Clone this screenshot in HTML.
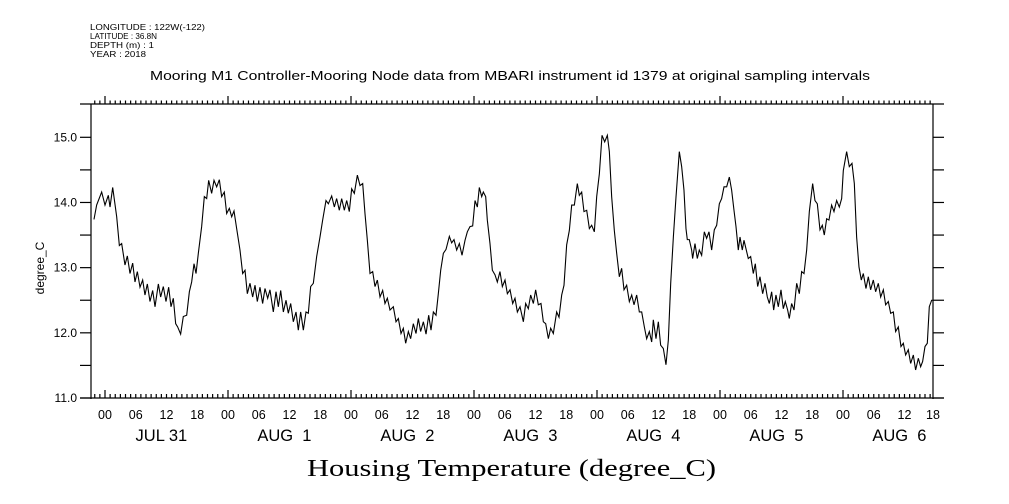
<!DOCTYPE html>
<html><head><meta charset="utf-8"><style>
body{margin:0;background:#fff;width:1009px;height:504px;overflow:hidden}
svg{display:block}
text{font-family:"Liberation Sans",sans-serif;fill:#000}
</style></head><body>
<svg id="chart" width="1009" height="504" viewBox="0 0 1009 504" xmlns="http://www.w3.org/2000/svg">
<g font-size="8.5">
<text x="90" y="30" textLength="115" lengthAdjust="spacingAndGlyphs">LONGITUDE : 122W(-122)</text>
<text x="90" y="39" textLength="67" lengthAdjust="spacingAndGlyphs">LATITUDE : 36.8N</text>
<text x="90" y="48" textLength="64" lengthAdjust="spacingAndGlyphs">DEPTH (m) : 1</text>
<text x="90" y="57" textLength="56" lengthAdjust="spacingAndGlyphs">YEAR : 2018</text>
</g>
<text x="150" y="80" textLength="720" lengthAdjust="spacingAndGlyphs" font-size="13">Mooring M1 Controller-Mooring Node data from MBARI instrument id 1379 at original sampling intervals</text>
<g id="axes"></g>
<g id="series"></g>
<text x="0" y="0" transform="translate(44,268) rotate(-90)" text-anchor="middle" font-size="12">degree_C</text>
<text x="307" y="476" textLength="409" lengthAdjust="spacingAndGlyphs" font-size="24" style="font-family:'Liberation Serif',serif">Housing Temperature (degree_C)</text>
</svg>
<script>
const hours = [-2.15,-1.63,-0.65,0.0,0.65,0.98,1.50,2.28,2.80,3.25,3.90,4.36,4.88,5.40,5.85,6.31,6.83,7.35,7.80,8.26,8.78,9.30,9.76,10.41,10.86,11.38,11.90,12.42,12.88,13.33,13.79,14.18,14.76,15.28,15.94,16.46,16.91,17.37,17.76,18.21,18.86,19.38,19.84,20.23,20.81,21.27,21.79,22.31,22.76,23.28,23.74,24.26,24.72,25.17,25.69,26.34,26.86,27.32,27.77,28.29,28.81,29.27,29.72,30.24,30.76,31.22,31.74,32.19,32.84,33.37,33.82,34.28,34.80,35.32,35.77,36.23,36.75,37.27,37.72,38.18,38.70,39.22,39.67,40.13,40.65,41.30,41.95,42.47,43.12,43.58,44.23,44.75,45.20,45.72,46.18,46.70,47.16,47.67,48.13,48.65,49.24,49.76,50.28,50.73,51.19,51.71,52.23,52.68,53.14,53.66,54.18,54.63,55.09,
55.61,56.26,56.78,57.24,57.76,58.21,58.67,59.19,59.64,60.16,60.68,61.14,61.59,62.12,62.64,63.16,63.61,64.07,64.59,65.04,65.50,66.02,66.54,67.19,67.64,68.10,68.62,69.14,69.66,70.25,70.70,71.22,71.74,72.20,72.65,73.04,73.50,73.82,74.28,74.60,75.12,75.58,76.10,76.55,77.07,77.53,78.05,78.51,79.03,79.55,80.00,80.46,80.98,81.63,82.08,82.60,83.06,83.58,84.03,84.55,85.07,85.53,85.99,86.51,86.96,87.48,88.13,88.59,89.11,89.56,90.08,90.60,91.06,91.58,92.16,92.55,93.01,93.46,93.99,94.51,94.96,95.48,95.94,96.46,96.98,97.50,98.02,98.41,98.86,99.38,99.84,100.36,100.81,101.27,101.79,102.31,102.77,103.22,103.74,104.26,104.72,105.24,105.69,106.21,106.67,106.99,107.51,107.97,108.42,108.94,109.46,109.92,110.38,110.90,111.42,
112.06,112.52,112.97,113.36,113.62,114.01,114.47,114.66,115.12,115.57,115.96,116.42,116.94,117.39,117.85,118.37,118.89,119.35,119.87,120.32,120.78,121.30,121.82,122.27,122.73,123.12,123.57,123.90,124.35,124.68,125.07,125.52,125.98,126.50,126.89,127.35,127.80,128.32,128.78,129.23,129.62,130.08,130.47,130.92,131.38,131.90,132.35,132.74,133.20,133.52,133.98,134.44,134.96,135.48,135.93,136.39,136.91,137.43,138.08,138.53,138.99,139.51,139.96,140.35,140.81,141.26,141.78,142.24,142.76,143.28,143.74,144.06,144.71,145.23,145.75,146.21,146.66,147.12,147.57,147.96,148.48,148.94,149.39,149.91,150.37,150.89,151.35,151.87,152.32,152.84,153.30,153.82,154.27,154.79,155.31,155.77,156.22,156.74,157.20,157.72,158.17,158.70,159.15,159.54,160.00,160.45,160.84,161.30,161.62];
const temps = [13.74,13.96,14.16,13.96,14.11,13.93,14.23,13.78,13.34,13.37,13.04,13.18,12.91,13.07,12.78,12.94,12.70,12.81,12.58,12.75,12.48,12.65,12.40,12.75,12.55,12.71,12.48,12.70,12.40,12.53,12.14,12.09,11.98,12.25,12.27,12.63,12.78,13.06,12.91,13.22,13.63,14.09,14.06,14.34,14.14,14.34,14.24,14.35,14.09,14.16,13.83,13.91,13.78,13.87,13.60,13.27,12.91,12.96,12.60,12.76,12.55,12.73,12.48,12.70,12.45,12.68,12.53,12.66,12.32,12.63,12.40,12.65,12.32,12.50,12.30,12.45,12.17,12.32,12.04,12.32,12.04,12.32,12.30,12.71,12.76,13.17,13.47,13.73,14.03,13.98,14.10,13.93,14.06,13.88,14.06,13.88,14.03,13.86,14.21,14.14,14.42,14.26,14.29,13.83,13.42,12.91,12.94,12.71,12.81,12.55,12.65,12.45,12.53,
12.35,12.40,12.17,12.22,11.99,12.07,11.84,12.02,11.91,12.14,11.99,12.22,12.02,12.17,11.98,12.27,12.04,12.32,12.27,12.60,12.96,13.22,13.28,13.48,13.38,13.43,13.27,13.37,13.19,13.42,13.55,13.63,13.64,14.03,13.93,14.23,14.09,14.16,14.09,13.73,13.37,12.96,12.89,12.78,12.94,12.71,12.81,12.60,12.66,12.45,12.53,12.32,12.40,12.17,12.45,12.37,12.58,12.45,12.66,12.43,12.45,12.17,12.14,11.91,12.07,11.99,12.32,12.24,12.58,12.73,13.35,13.57,13.96,13.96,14.29,14.11,14.16,13.86,13.88,13.60,13.65,13.55,14.09,14.44,15.03,14.93,15.03,14.78,14.09,13.57,13.22,12.86,12.99,12.66,12.73,12.48,12.58,12.43,12.58,12.32,12.32,12.09,11.91,12.02,11.86,12.20,11.91,12.17,11.81,11.76,11.51,11.89,12.76,13.47,14.09,
14.78,14.55,14.19,13.60,13.43,13.43,13.27,13.14,13.37,13.14,13.27,13.19,13.55,13.45,13.55,13.27,13.58,13.65,13.98,14.06,14.24,14.24,14.39,14.19,13.88,13.63,13.27,13.47,13.27,13.42,13.29,13.14,13.17,12.91,13.06,12.71,12.86,12.60,12.76,12.55,12.45,12.63,12.35,12.58,12.40,12.66,12.37,12.48,12.35,12.22,12.45,12.35,12.76,12.60,12.94,12.91,13.27,13.86,14.29,14.03,13.98,13.58,13.65,13.50,13.75,13.73,13.96,13.86,14.03,13.93,14.06,14.49,14.78,14.55,14.60,14.29,13.47,13.01,12.81,12.91,12.68,12.86,12.66,12.81,12.63,12.76,12.55,12.66,12.43,12.48,12.30,12.32,12.02,12.09,11.79,11.84,11.66,11.74,11.53,11.66,11.43,11.61,11.48,11.56,11.79,11.84,12.40,12.50,12.50];
const yTicks = [11.0,11.5,12.0,12.5,13.0,13.5,14.0,14.5,15.0];
const yTickLabels = ["11.0","","12.0","","13.0","","14.0","","15.0"];
const hourLabels = ["00","06","12","18"];
const dayLabels = ["JUL 31","AUG  1","AUG  2","AUG  3","AUG  4","AUG  5","AUG  6"];

const NS="http://www.w3.org/2000/svg";
const L=91,R=933,T=104,B=398;
const H0=-2.73,H1=161.6;
const xOf=h=>105+h*123/24;
const yOf=v=>B-(v-11)*(B-137.3)/4;
const axes=document.getElementById('axes');
function mk(tag,attrs,parent){const e=document.createElementNS(NS,tag);for(const k in attrs)e.setAttribute(k,attrs[k]);parent.appendChild(e);return e;}
function line(x1,y1,x2,y2,p){return mk('line',{x1:x1,y1:y1,x2:x2,y2:y2,stroke:'#000','stroke-width':1.2},p);}
let e;
e=line(80,T,944,T,axes);


e=line(80,B,944,B,axes);


e=line(L,T,L,B+1,axes);


e=line(R,T,R,B+1,axes);


yTicks.forEach((v,i)=>{
  const y=yOf(v);
  const t1=line(80,y,L,y,axes);
  
  
  const t2=line(R,y,944,y,axes);
  
  
  if(yTickLabels[i]){
    const tx=mk('text',{x:77,y:y+4,'text-anchor':'end','font-size':12},axes);
    tx.textContent=yTickLabels[i];
    
    
  }
});
for(let h=Math.ceil(H0);h<=162;h++){
  const x=Math.min(xOf(h),R);
  const major=(h%24===0);
  if(h<=H1){
    const t=line(x,T,x,T-(major?8:3.5),axes);
    
    
    const b=line(x,B,x,B-(major?8:4),axes);
    
    
  }
  if(h>=0 && h%6===0){
    const tx=mk('text',{x:x,y:419,'text-anchor':'middle','font-size':12.5},axes);
    tx.textContent=hourLabels[(h/6)%4];
    
    
  }
}
dayLabels.forEach((d,i)=>{
  const tx=mk('text',{x:xOf(i*24+11),y:441,'text-anchor':'middle','font-size':16.5},axes);
  tx.style.whiteSpace='pre';
  tx.setAttribute('xml:space','preserve');
  tx.textContent=d;
  
  
});
const pts=hours.map((h,i)=>xOf(h).toFixed(2)+','+yOf(temps[i]).toFixed(2)).join(' ');
const pl=mk('polyline',{points:pts,fill:'none',stroke:'#000','stroke-width':1.1,'stroke-linejoin':'miter'},document.getElementById('series'));


</script>
</body></html>
